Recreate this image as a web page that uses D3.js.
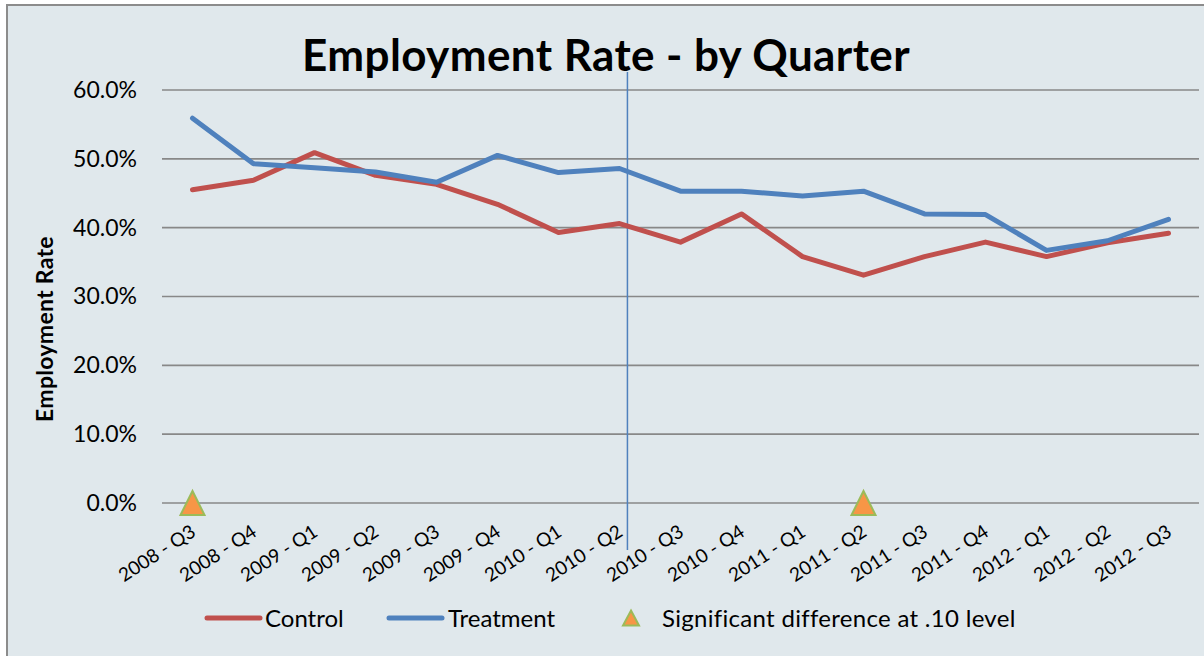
<!DOCTYPE html>
<html>
<head>
<meta charset="utf-8">
<script src="https://cdn.jsdelivr.net/npm/d3@7"></script>
<style>
  body { margin: 0; background: #fff; }
  svg { display: block; }
</style>
</head>
<body>
<div id="chart"></div>
<script>
// categories and series values (employment rate, %)
const quarters = [
  "2008 - Q3", "2008 - Q4", "2009 - Q1", "2009 - Q2", "2009 - Q3", "2009 - Q4",
  "2010 - Q1", "2010 - Q2", "2010 - Q3", "2010 - Q4", "2011 - Q1", "2011 - Q2",
  "2011 - Q3", "2011 - Q4", "2012 - Q1", "2012 - Q2", "2012 - Q3"
];
const control = [45.5, 46.9, 50.9, 47.6, 46.3, 43.4, 39.3, 40.6, 37.9, 42.0, 35.8, 33.1, 35.8, 37.9, 35.8, 37.8, 39.2];
const treatment = [55.9, 49.3, 48.7, 48.1, 46.6, 50.5, 48.0, 48.6, 45.3, 45.3, 44.6, 45.3, 42.0, 41.9, 36.7, 38.1, 41.2];
const significant = ["2008 - Q3", "2011 - Q2"];   // marked at 0%
const yTicks = [0, 10, 20, 30, 40, 50, 60];
const interventionAt = 7.13; // category index where the vertical marker sits

const width = 1204, height = 656;
const margin = { left: 162, right: 5, top: 90, bottom: 153 };
const font = "Lato, 'Open Sans', sans-serif";

const svg = d3.select("#chart").append("svg")
  .attr("width", width)
  .attr("height", height)
  .style("font-family", font);

// chart area background + border
svg.append("rect")
  .attr("x", 7).attr("y", 5)
  .attr("width", width + 10).attr("height", height + 10)
  .attr("fill", "#e0e8ec")
  .attr("stroke", "#8c8c8c")
  .attr("stroke-width", 2);

const x = d3.scalePoint()
  .domain(quarters)
  .range([margin.left, width - margin.right])
  .padding(0.5);

const y = d3.scaleLinear()
  .domain([0, 60])
  .range([height - margin.bottom, margin.top]);

// gridlines
svg.append("g")
  .selectAll("line")
  .data(yTicks)
  .join("line")
  .attr("x1", margin.left)
  .attr("x2", width - margin.right)
  .attr("y1", d => y(d))
  .attr("y2", d => y(d))
  .attr("stroke", "#888")
  .attr("stroke-width", 1.6);

// y axis labels
const yAxis = svg.append("g")
  .attr("transform", `translate(${margin.left - 25},0)`)
  .call(d3.axisLeft(y).tickValues(yTicks).tickSize(0).tickPadding(0)
    .tickFormat(d => d.toFixed(1) + "%"));
yAxis.select(".domain").remove();
yAxis.selectAll("text")
  .attr("font-family", font)
  .attr("font-size", 23)
  .attr("fill", "#000");

// x axis labels
const xAxis = svg.append("g")
  .attr("transform", `translate(0,${y(0)})`)
  .call(d3.axisBottom(x).tickSize(0).tickPadding(0));
xAxis.select(".domain").remove();
xAxis.selectAll("text")
  .attr("font-family", font)
  .attr("font-size", 19)
  .attr("fill", "#000")
  .attr("text-anchor", "end")
  .attr("dy", 0)
  .attr("transform", "translate(4,32) rotate(-33)");

// intervention marker
const idx = d3.scaleLinear()
  .domain([0, quarters.length - 1])
  .range([x(quarters[0]), x(quarters[quarters.length - 1])]);
svg.append("line")
  .attr("x1", idx(interventionAt))
  .attr("x2", idx(interventionAt))
  .attr("y1", 72)
  .attr("y2", 550)
  .attr("stroke", "#4f81bd")
  .attr("stroke-width", 1.5);

// series lines
const line = d3.line()
  .x((d, i) => x(quarters[i]))
  .y(d => y(d));

const series = [
  { name: "Control", values: control, color: "#c0504d" },
  { name: "Treatment", values: treatment, color: "#4f81bd" }
];

svg.append("g")
  .selectAll("path")
  .data(series)
  .join("path")
  .attr("d", d => line(d.values))
  .attr("fill", "none")
  .attr("stroke", d => d.color)
  .attr("stroke-width", 5)
  .attr("stroke-linecap", "round")
  .attr("stroke-linejoin", "round");

// significance triangles
function triangle(w, h) {
  const p = d3.path();
  p.moveTo(0, -h / 2);
  p.lineTo(w / 2, h / 2);
  p.lineTo(-w / 2, h / 2);
  p.closePath();
  return p.toString();
}
svg.append("g")
  .selectAll("path")
  .data(significant)
  .join("path")
  .attr("d", triangle(24, 24))
  .attr("transform", d => `translate(${x(d)},${y(0)})`)
  .attr("fill", "#f79646")
  .attr("stroke", "#9bbb59")
  .attr("stroke-width", 2);

// title
svg.append("text")
  .attr("x", 606)
  .attr("y", 71)
  .attr("text-anchor", "middle")
  .attr("font-size", 44)
  .attr("font-weight", "bold")
  .attr("letter-spacing", 0.4)
  .text("Employment Rate - by Quarter");

// y axis title
svg.append("text")
  .attr("transform", "translate(53,329) rotate(-90)")
  .attr("text-anchor", "middle")
  .attr("font-size", 23)
  .attr("font-weight", "bold")
  .attr("letter-spacing", 0.3)
  .text("Employment Rate");

// legend
const legendY = 618;
const legend = svg.append("g");
const legendItems = [
  { label: "Control", color: "#c0504d", x0: 207, x1: 260, tx: 265 },
  { label: "Treatment", color: "#4f81bd", x0: 389, x1: 442, tx: 448 }
];
legendItems.forEach(d => {
  legend.append("line")
    .attr("x1", d.x0).attr("x2", d.x1)
    .attr("y1", legendY).attr("y2", legendY)
    .attr("stroke", d.color)
    .attr("stroke-width", 5)
    .attr("stroke-linecap", "round");
  legend.append("text")
    .attr("x", d.tx)
    .attr("y", legendY + 9)
    .attr("font-size", 24)
    .text(d.label);
});
legend.append("path")
  .attr("d", triangle(16, 15))
  .attr("transform", `translate(631,${legendY})`)
  .attr("fill", "#f79646")
  .attr("stroke", "#9bbb59")
  .attr("stroke-width", 2);
legend.append("text")
  .attr("x", 662)
  .attr("y", legendY + 9)
  .attr("font-size", 24)
  .attr("letter-spacing", 0.3)
  .text("Significant difference at .10 level");
</script>
</body>
</html>
